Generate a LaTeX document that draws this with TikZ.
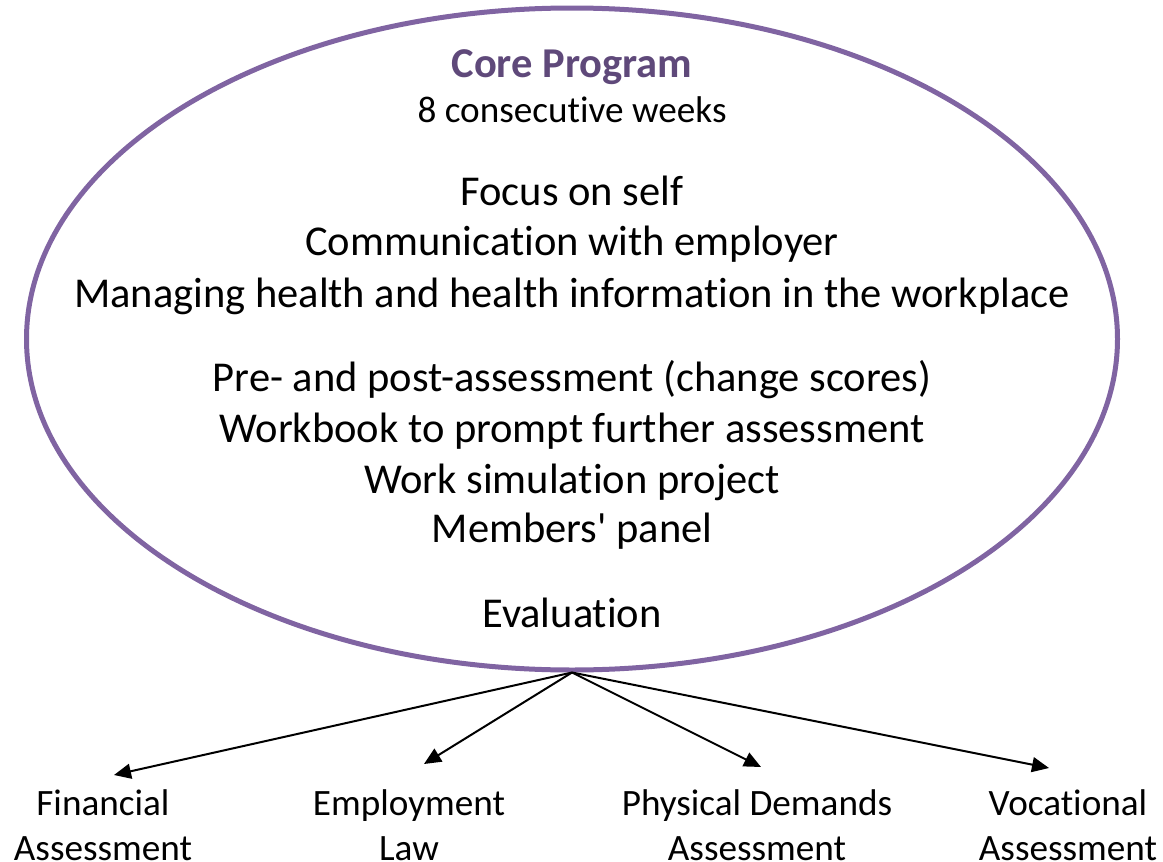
\documentclass[tikz,border=0pt]{standalone}
\usepackage{fontspec}
\setmainfont{Carlito}[Ligatures={CommonOff,TeXOff}]
\usetikzlibrary{shapes.geometric,arrows.meta}
\definecolor{ringpurple}{RGB}{128,100,162}
\definecolor{titlepurple}{RGB}{95,73,122}
\tikzset{
  ring/.style={draw=ringpurple, line width=5pt, ellipse, minimum width=1091pt, minimum height=662pt, inner sep=0pt},
  bodytext/.style={anchor=base, inner sep=0pt, font=\fontsize{42.5}{50}\selectfont},
  subtext/.style={anchor=base, inner sep=0pt, font=\fontsize{37.2}{45}\selectfont},
  titletext/.style={anchor=base, inner sep=0pt, text=titlepurple, font=\fontsize{42.5}{50}\bfseries\selectfont},
  leaf/.style={anchor=base, inner sep=0pt, align=center, font=\fontsize{37.2}{45}\selectfont},
  branch/.style={line width=2pt, -{Triangle[length=17pt,width=15pt]}}
}
\begin{document}
\begin{tikzpicture}[x=1pt,y=-1pt]
\useasboundingbox (0,0) rectangle (1163,862);
\node[ring] (core) at (572,339) {};
\node[titletext] (title) at (572,77) {Core Program};
\node[subtext] (weeks) at (572,122) {8 consecutive weeks};
\node[bodytext] (l1) at (572,205) {Focus on self};
\node[bodytext] (l2) at (572,255) {Communication with employer};
\node[bodytext] (l3) at (572,307) {Managing health and health information in the workplace};
\node[bodytext] (l4) at (572,391) {Pre- and post-assessment (change scores)};
\node[bodytext] (l5) at (572,442) {Workbook to prompt further assessment};
\node[bodytext] (l6) at (572,493) {Work simulation project};
\node[bodytext] (l7) at (572,542) {Members' panel};
\node[bodytext] (l8) at (572,627) {Evaluation};
\node[leaf] (fin) at (103,860) {Financial\\Assessment};
\node[leaf] (emp) at (409,860) {Employment\\Law};
\node[leaf] (phy) at (757,860) {Physical Demands\\Assessment};
\node[leaf] (voc) at (1068,860) {Vocational\\Assessment};
\coordinate (tfin) at (114,775);
\coordinate (temp) at (424,764);
\coordinate (tphy) at (761,767);
\coordinate (tvoc) at (1049,768);
\draw[branch] (core.south) -- (tfin);
\draw[branch] (core.south) -- (temp);
\draw[branch] (core.south) -- (tphy);
\draw[branch] (core.south) -- (tvoc);
\end{tikzpicture}
\end{document}
